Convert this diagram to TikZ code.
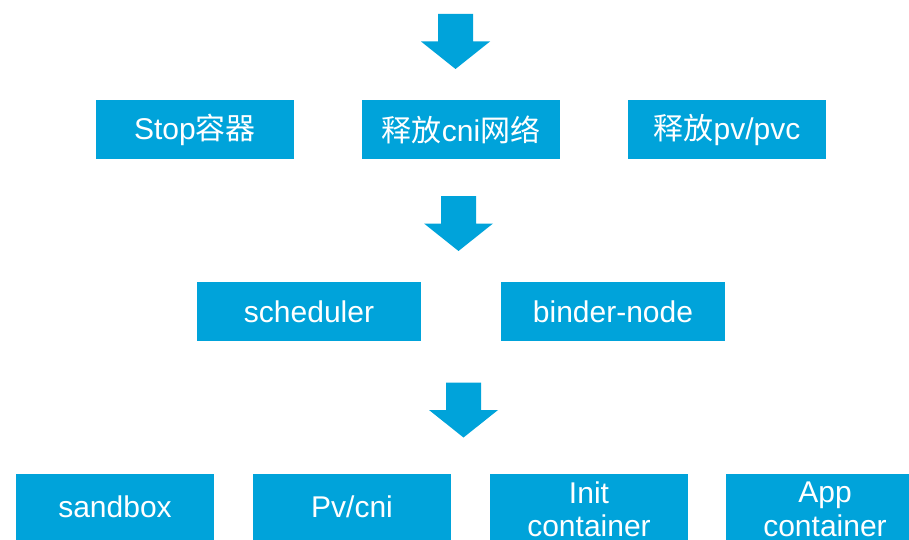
\documentclass[tikz,border=0pt]{standalone}
\usepackage{fontspec}
\setmainfont{Liberation Sans}
\newfontfamily\cjk{Noto Sans CJK SC}
\definecolor{brandblue}{RGB}{0,163,218}
\tikzset{
  stepbox/.style={fill=brandblue, text=white, minimum width=198pt, minimum height=59pt,
    inner sep=0pt, align=center, font=\fontsize{30}{33.5}\selectfont},
  widebox/.style={stepbox, minimum width=224pt},
  lowbox/.style={stepbox, minimum height=66pt},
  tallbox/.style={stepbox, minimum height=71pt},
  downarrow/.pic={
    \fill[brandblue] (-17.5,0) -- (17.5,0) -- (17.5,27.5) -- (34.5,27.5)
      -- (0,55) -- (-34.5,27.5) -- (-17.5,27.5) -- cycle;
  }
}
\begin{document}
\begin{tikzpicture}[x=1pt,y=-1pt]
\useasboundingbox (0,0) rectangle (909,540);
\clip (0,0) rectangle (909,540);

% flow arrows between the rows
\pic at (455.5,14) {downarrow};
\pic at (458.5,196) {downarrow};
\pic at (463.5,382.5) {downarrow};

% first row: teardown steps
\node[stepbox] (stop) at (195,129.5) {Stop{\cjk 容器}};
\node[stepbox] (cni)  at (461,129.5) {{\cjk 释放}cni{\cjk 网络}};
\node[stepbox] (pvc)  at (727,129.5) {{\cjk 释放}pv/pvc};

% second row: scheduling
\node[widebox] (sched)  at (309,311.5) {scheduler};
\node[widebox] (binder) at (613,311.5) {binder-node};

% third row: pod setup
\node[lowbox]  (sandbox) at (115,507) {sandbox};
\node[lowbox]  (pvcni)   at (352,507) {Pv/cni};
\node[tallbox] (init)    at (589,509.5) {Init\\container};
\node[tallbox] (app)     at (825,509.5) {App\\container};
\end{tikzpicture}
\end{document}
